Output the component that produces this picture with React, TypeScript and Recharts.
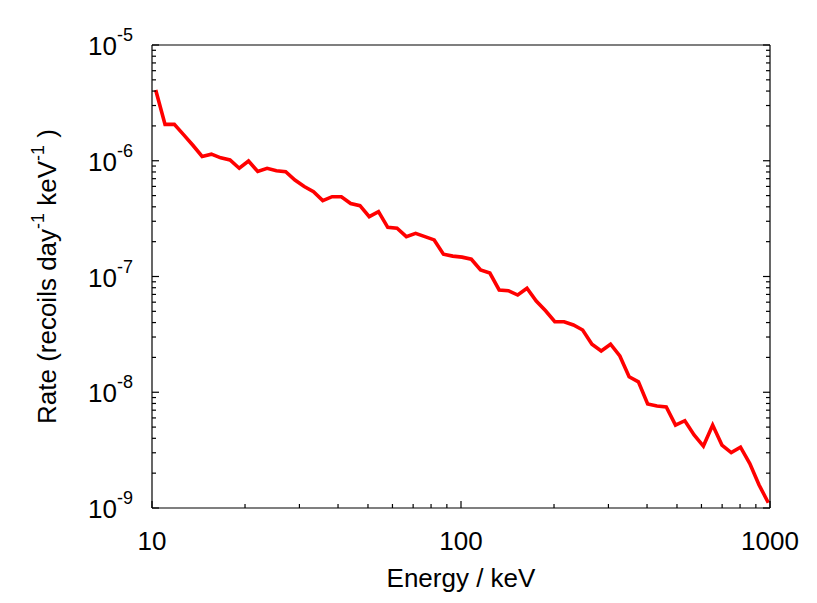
import React from 'react';
import { LineChart, Line, XAxis, YAxis, Label } from 'recharts';

// recoil energy (keV), log-spaced bins
const ENERGY = [
  10.28, 11.02, 11.81, 12.65, 13.56, 14.53, 15.57, 16.69, 17.88, 19.16,
  20.53, 21.99, 23.58, 25.27, 27.08, 29.01, 31.09, 33.32, 35.7, 38.27,
  41.01, 43.94, 47.1, 50.47, 54.08, 57.94, 62.09, 66.55, 71.3, 76.42,
  81.89, 87.73, 94.03, 100.8, 108.0, 115.7, 124.0, 132.9, 142.4, 152.6,
  163.5, 175.2, 187.8, 201.2, 215.6, 231.1, 247.6, 265.3, 284.3, 304.8,
  326.6, 350.0, 375.1, 401.9, 430.8, 461.6, 494.6, 530.1, 568.0, 608.7,
  652.3, 698.9, 749.1, 802.7, 860.3, 921.8, 987.6,
];

// rate (recoils day^-1 keV^-1)
const RATE = [
  4.09e-6, 2.06e-6, 2.06e-6, 1.68e-6, 1.36e-6, 1.09e-6, 1.14e-6, 1.06e-6, 1.015e-6, 8.61e-7,
  9.95e-7, 8.08e-7, 8.61e-7, 8.2e-7, 8.04e-7, 6.82e-7, 5.99e-7, 5.4e-7, 4.52e-7, 4.89e-7,
  4.89e-7, 4.27e-7, 4.09e-7, 3.29e-7, 3.63e-7, 2.66e-7, 2.61e-7, 2.21e-7, 2.36e-7, 2.21e-7,
  2.07e-7, 1.56e-7, 1.5e-7, 1.47e-7, 1.41e-7, 1.14e-7, 1.07e-7, 7.65e-8, 7.54e-8, 6.92e-8,
  7.91e-8, 6.14e-8, 5.06e-8, 4.07e-8, 4.07e-8, 3.81e-8, 3.45e-8, 2.6e-8, 2.27e-8, 2.6e-8,
  2.06e-8, 1.36e-8, 1.23e-8, 7.92e-9, 7.61e-9, 7.46e-9, 5.21e-9, 5.68e-9, 4.27e-9, 3.43e-9,
  5.21e-9, 3.5e-9, 3.01e-9, 3.35e-9, 2.42e-9, 1.58e-9, 1.11e-9,
];

const X_TICKS = [
  10, 20, 30, 40, 50, 60, 70, 80, 90,
  100, 200, 300, 400, 500, 600, 700, 800, 900, 1000,
];

const Y_TICKS = [
  1e-9, 2e-9, 3e-9, 4e-9, 5e-9, 6e-9, 7e-9, 8e-9, 9e-9,
  1e-8, 2e-8, 3e-8, 4e-8, 5e-8, 6e-8, 7e-8, 8e-8, 9e-8,
  1e-7, 2e-7, 3e-7, 4e-7, 5e-7, 6e-7, 7e-7, 8e-7, 9e-7,
  1e-6, 2e-6, 3e-6, 4e-6, 5e-6, 6e-6, 7e-6, 8e-6, 9e-6,
  1e-5,
];

const rows = ENERGY.map((energy, i) => ({ energy, rate: RATE[i] }));

const FONT = '"Liberation Sans", Arial, Helvetica, sans-serif';
const MAJOR = 7;
const MINOR = 4;

const isMajor = (v: number) => {
  const l = Math.log10(v);
  return Math.abs(l - Math.round(l)) < 1e-6;
};

const BottomTick = (props: any) => {
  const { x, y, payload } = props;
  const major = isMajor(payload.value);
  return (
    <g>
      <line x1={x} x2={x} y1={y} y2={y - (major ? MAJOR : MINOR)} stroke="#000" strokeWidth={1.2} />
      {major && (
        <text x={x} y={y + 42} textAnchor="middle" fontSize={26} fontFamily={FONT} fill="#000">
          {payload.value}
        </text>
      )}
    </g>
  );
};

const TopTick = (props: any) => {
  const { x, y, payload } = props;
  const major = isMajor(payload.value);
  return <line x1={x} x2={x} y1={y} y2={y + (major ? MAJOR : MINOR)} stroke="#000" strokeWidth={1.2} />;
};

const LeftTick = (props: any) => {
  const { x, y, payload } = props;
  const major = isMajor(payload.value);
  const exp = Math.round(Math.log10(payload.value));
  return (
    <g>
      <line x1={x} x2={x + (major ? MAJOR : MINOR)} y1={y} y2={y} stroke="#000" strokeWidth={1.2} />
      {major && (
        <text x={x - 19} y={y + 10} textAnchor="end" fontSize={26} fontFamily={FONT} fill="#000">
          10
          <tspan dy={-14} fontSize={18}>
            {exp}
          </tspan>
        </text>
      )}
    </g>
  );
};

const RightTick = (props: any) => {
  const { x, y, payload } = props;
  const major = isMajor(payload.value);
  return <line x1={x} x2={x - (major ? MAJOR : MINOR)} y1={y} y2={y} stroke="#000" strokeWidth={1.2} />;
};

const YTitle = (props: any) => {
  const vb = props.viewBox;
  const cx = vb.x + 56;
  const cy = vb.y + vb.height / 2;
  return (
    <text
      x={cx}
      y={cy}
      transform={`rotate(-90, ${cx}, ${cy})`}
      textAnchor="middle"
      fontSize={26}
      fontFamily={FONT}
      fill="#000"
    >
      Rate (recoils day
      <tspan dy={-12} fontSize={18}>-1</tspan>
      <tspan dy={12}> keV</tspan>
      <tspan dy={-12} fontSize={18}>-1</tspan>
      <tspan dy={12}> )</tspan>
    </text>
  );
};

const XTitle = (props: any) => {
  const vb = props.viewBox;
  return (
    <text
      x={vb.x + vb.width / 2}
      y={vb.y + 79}
      textAnchor="middle"
      fontSize={26}
      fontFamily={FONT}
      fill="#000"
    >
      Energy / keV
    </text>
  );
};

export default function App() {
  return (
    <div style={{ position: 'absolute', left: 0, top: 0, width: 817, height: 603, background: '#fff' }}>
      <LineChart width={817} height={603} data={rows} margin={{ top: 44, right: 46, bottom: 0, left: 0 }}>
        <XAxis
          xAxisId="b"
          dataKey="energy"
          type="number"
          scale="log"
          domain={[10, 1000]}
          allowDataOverflow
          ticks={X_TICKS}
          interval={0}
          tickSize={0}
          tickMargin={0}
          tickLine={false}
          height={95}
          axisLine={{ stroke: '#000', strokeWidth: 1.2 }}
          tick={<BottomTick />}
        >
          <Label content={<XTitle />} />
        </XAxis>
        <XAxis
          xAxisId="t"
          orientation="top"
          type="number"
          scale="log"
          domain={[10, 1000]}
          allowDataOverflow
          ticks={X_TICKS}
          interval={0}
          tickSize={0}
          tickMargin={0}
          tickLine={false}
          height={1}
          axisLine={{ stroke: '#000', strokeWidth: 1.2 }}
          tick={<TopTick />}
        />
        <YAxis
          yAxisId="l"
          type="number"
          scale="log"
          domain={[1e-9, 1e-5]}
          allowDataOverflow
          ticks={Y_TICKS}
          interval={0}
          tickSize={0}
          tickMargin={0}
          tickLine={false}
          width={152}
          axisLine={{ stroke: '#000', strokeWidth: 1.2 }}
          tick={<LeftTick />}
        >
          <Label content={<YTitle />} />
        </YAxis>
        <YAxis
          yAxisId="r"
          orientation="right"
          type="number"
          scale="log"
          domain={[1e-9, 1e-5]}
          allowDataOverflow
          ticks={Y_TICKS}
          interval={0}
          tickSize={0}
          tickMargin={0}
          tickLine={false}
          width={1}
          axisLine={{ stroke: '#000', strokeWidth: 1.2 }}
          tick={<RightTick />}
        />
        <Line
          xAxisId="b"
          yAxisId="l"
          type="linear"
          dataKey="rate"
          stroke="#ff0000"
          strokeWidth={3.6}
          dot={false}
          isAnimationActive={false}
        />
      </LineChart>
    </div>
  );
}
